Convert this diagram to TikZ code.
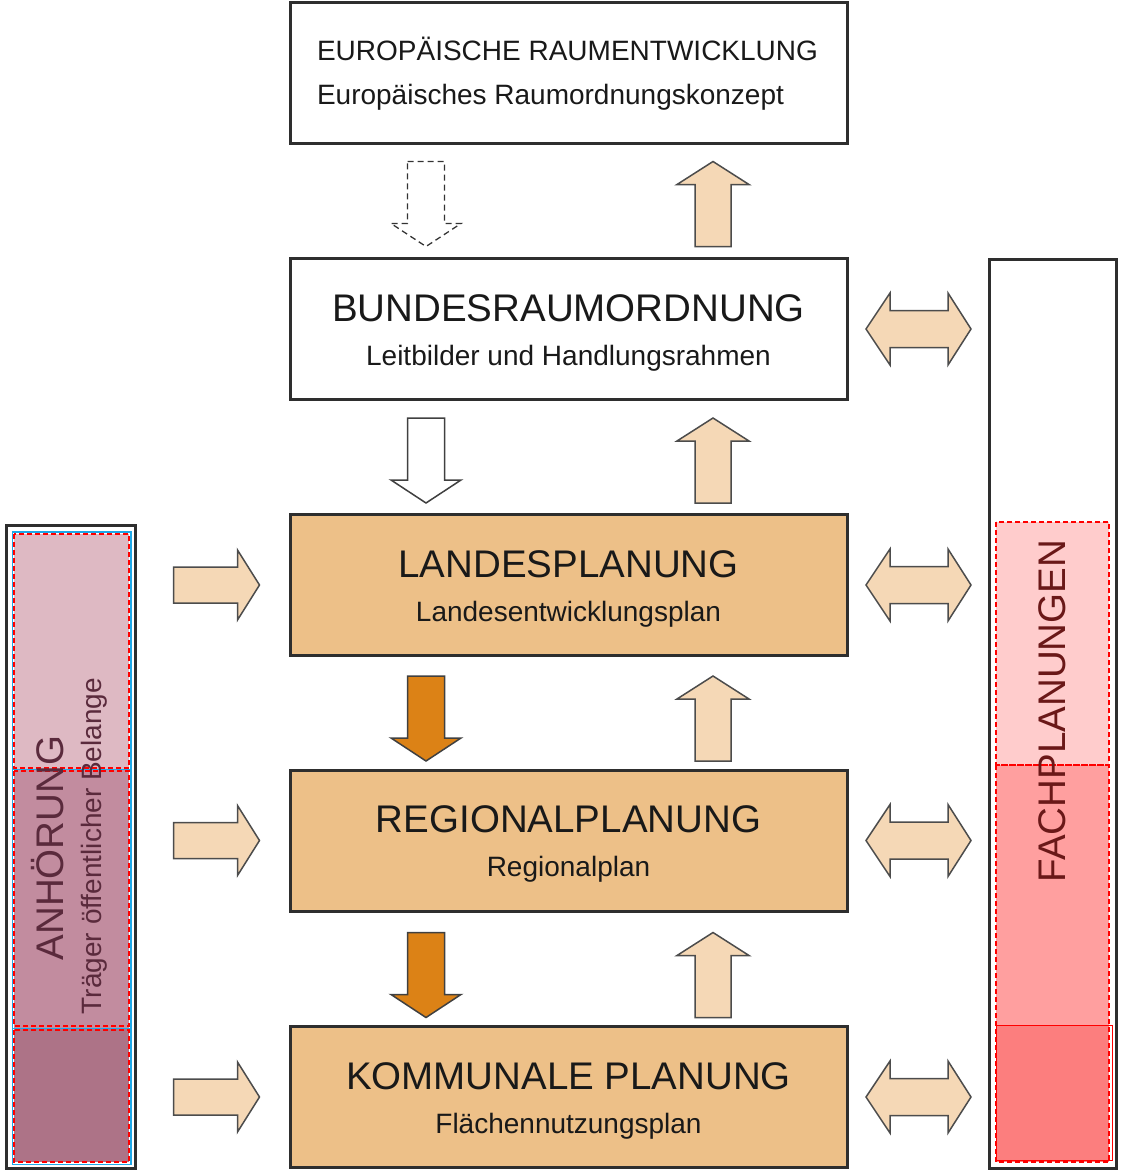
\documentclass[tikz,border=0pt]{standalone}
\usepackage{fontspec}
\setmainfont{Liberation Sans}
\usetikzlibrary{calc}

\definecolor{boxfill}{HTML}{EDC088}
\definecolor{arrowlight}{HTML}{F5D8B6}
\definecolor{arroworange}{HTML}{DC8216}
\definecolor{linegray}{HTML}{2E2E2E}
\definecolor{anhA}{HTML}{DEB9C3}
\definecolor{anhB}{HTML}{C28C9F}
\definecolor{anhC}{HTML}{AD7387}
\definecolor{anhtext}{HTML}{5A2A3C}
\definecolor{fachA}{HTML}{FFCCCC}
\definecolor{fachB}{HTML}{FF9F9F}
\definecolor{fachC}{HTML}{FC7E7E}
\definecolor{fachtext}{HTML}{6A1818}
\definecolor{frameblue}{HTML}{1EA8E8}

\tikzset{
  downarr/.pic={\path[pic actions] (-18.5,0) -- (18.5,0) -- (18.5,62) -- (35,62) -- (0,85) -- (-35,62) -- (-18.5,62) -- cycle;},
  uparr/.pic={\path[pic actions] (0,0) -- (36,23) -- (18,23) -- (18,85) -- (-18,85) -- (-18,23) -- (-36,23) -- cycle;},
  rightarr/.pic={\path[pic actions] (0,-18) -- (64,-18) -- (64,-35) -- (86,0) -- (64,35) -- (64,18) -- (0,18) -- cycle;},
  botharr/.pic={\path[pic actions] (0,0) -- (24,-36) -- (24,-18.5) -- (82,-18.5) -- (82,-36) -- (105,0) -- (82,36) -- (82,18.5) -- (24,18.5) -- (24,36) -- cycle;}
}

\begin{document}
\begin{tikzpicture}[x=1pt,y=-1pt,line join=miter,
  level/.style={draw=linegray,line width=3pt,minimum width=557pt,minimum height=141pt,inner sep=0pt},
  planlevel/.style={level,fill=boxfill},
  frame/.style={draw=linegray,line width=3.2pt,inner sep=0pt},
  title/.style={anchor=base,font=\fontsize{38.5}{44}\selectfont,text=black!90},
  subtitle/.style={anchor=base,font=\fontsize{28}{34}\selectfont,text=black!90},
  eutext/.style={anchor=base west,font=\fontsize{28}{34}\selectfont,text=black!90},
  light/.style={draw=black!70,line width=1.5pt,fill=arrowlight},
  strong/.style={draw=black!75,line width=1.5pt,fill=arroworange},
  empty/.style={draw=black!75,line width=1.5pt,fill=white},
  vague/.style={draw=black!80,line width=1.3pt,dash pattern=on 6pt off 4pt},
  section/.style={draw=red,line width=1.2pt,dash pattern=on 5pt off 3pt}]
\useasboundingbox (0,0) rectangle (1120,1173);

% ebenen
\node[level] (eu) at (568.5,72.5) {};
\node[level] (bund) at (568.5,329) {};
\node[planlevel] (landes) at (568.5,585) {};
\node[planlevel] (regio) at (568.5,840.5) {};
\node[planlevel] (komm) at (568.5,1097) {};

\node[eutext] (eu1) at ($(eu.north west)+(25,60)$) {EUROPÄISCHE RAUMENTWICKLUNG};
\node[eutext] (eu2) at ($(eu.north west)+(25,104)$) {Europäisches Raumordnungskonzept};
\node[title] (bund1) at ($(bund.north)+(0,64)$) {BUNDESRAUMORDNUNG};
\node[subtitle] (bund2) at ($(bund.north)+(0,108)$) {Leitbilder und Handlungsrahmen};
\node[title] (landes1) at ($(landes.north)+(0,64)$) {LANDESPLANUNG};
\node[subtitle] (landes2) at ($(landes.north)+(0,108)$) {Landesentwicklungsplan};
\node[title] (regio1) at ($(regio.north)+(0,64)$) {REGIONALPLANUNG};
\node[subtitle] (regio2) at ($(regio.north)+(0,108)$) {Regionalplan};
\node[title] (komm1) at ($(komm.north)+(0,64)$) {KOMMUNALE PLANUNG};
\node[subtitle] (komm2) at ($(komm.north)+(0,108)$) {Flächennutzungsplan};

% pfeile zwischen den ebenen
\pic[vague] at ($(eu.south)+(-142.5,17)$) {downarr};
\pic[empty] at ($(bund.south)+(-142.5,17)$) {downarr};
\pic[strong] at ($(landes.south)+(-142.5,19)$) {downarr};
\pic[strong] at ($(regio.south)+(-142.5,20)$) {downarr};
\pic[light] at ($(eu.south)+(144.5,17)$) {uparr};
\pic[light] at ($(bund.south)+(144.5,17)$) {uparr};
\pic[light] at ($(landes.south)+(144.5,19)$) {uparr};
\pic[light] at ($(regio.south)+(144.5,20)$) {uparr};

% anhoerung
\node[frame,minimum width=129pt,minimum height=643pt] (anh) at (71,847) {};
\fill[anhA] (14,534) rectangle (129,769);
\fill[anhB] (14,769) rectangle (129,1028);
\fill[anhC] (14,1028) rectangle (129,1162);
\draw[section] (14,534) rectangle (129,768);
\draw[section] (14,771) rectangle (129,1026);
\draw[section] (14,1030) rectangle (129,1162);
\draw[frameblue,line width=1.2pt] (12.5,532) rectangle (131,1164.5);
\draw[frameblue,line width=1pt] (12.5,769.5) -- (131,769.5);
\draw[frameblue,line width=1pt] (12.5,1028) -- (131,1028);
\node[rotate=90,anchor=base,font=\fontsize{38.5}{44}\selectfont,text=anhtext] (anh1) at (63,848) {ANHÖRUNG};
\node[rotate=90,anchor=base,font=\fontsize{28}{34}\selectfont,text=anhtext] (anh2) at (101,846) {Träger öffentlicher Belange};

\pic[light] at ($(landes.west)+(-115,0)$) {rightarr};
\pic[light] at ($(regio.west)+(-115,0)$) {rightarr};
\pic[light] at ($(komm.west)+(-115,0)$) {rightarr};

% fachplanungen
\node[frame,minimum width=127pt,minimum height=909pt] (fach) at (1053,714) {};
\fill[fachA] (996,522) rectangle (1109,765);
\fill[fachB] (996,765) rectangle (1109,1025);
\fill[fachC] (996,1025) rectangle (1109,1162);
\draw[section] (996,522) rectangle (1109,765);
\draw[section] (996,765) rectangle (1109,1162);
\draw[red,line width=1pt] (996,1025) rectangle (1112,1160);
\node[rotate=90,anchor=base,font=\fontsize{38.5}{44}\selectfont,text=fachtext] (fach1) at (1065,711) {FACHPLANUNGEN};

\pic[light] at ($(bund.east)+(17.5,0)$) {botharr};
\pic[light] at ($(landes.east)+(17.5,0)$) {botharr};
\pic[light] at ($(regio.east)+(17.5,0)$) {botharr};
\pic[light] at ($(komm.east)+(17.5,0)$) {botharr};
\end{tikzpicture}
\end{document}
